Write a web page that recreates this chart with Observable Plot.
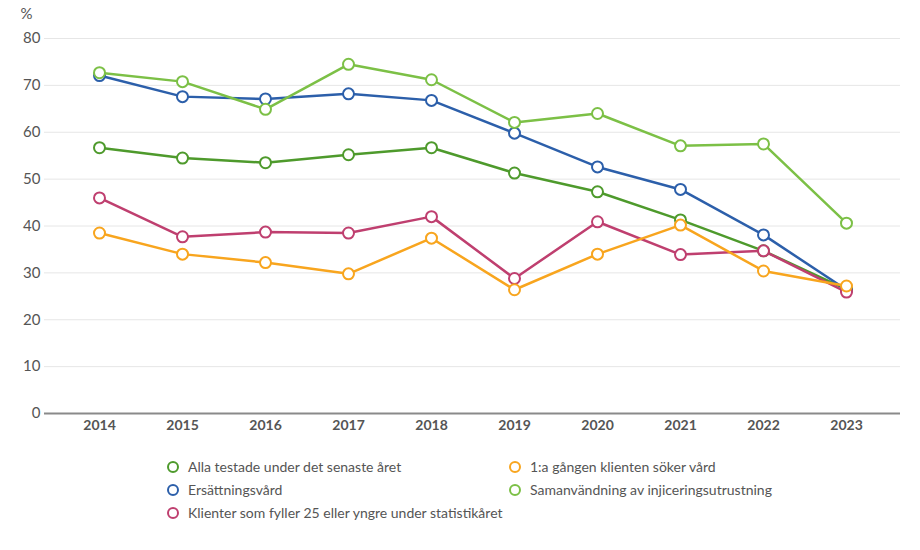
<!DOCTYPE html>
<html>
<head>
<meta charset="utf-8">
<script src="https://cdn.jsdelivr.net/npm/d3@7"></script>
<script src="https://cdn.jsdelivr.net/npm/@observablehq/plot@0.6"></script>
<style>
  body { margin: 0; background: #fff; font-family: Lato, "Noto Sans", sans-serif; }
  #chart { width: 920px; }
  .legend { display: grid; grid-template-columns: 342px 380px; margin-left: 166px; row-gap: 4px; margin-top: 12px; }
  .item { display: flex; align-items: center; font-size: 14px; color: #555; height: 19px; }
  .item svg { margin-right: 8px; }
</style>
</head>
<body>
<div id="chart"></div>
<script>
const years = ["2014","2015","2016","2017","2018","2019","2020","2021","2022","2023"];
const seriesNames = [
  "Alla testade under det senaste året",
  "1:a gången klienten söker vård",
  "Ersättningsvård",
  "Samanvändning av injiceringsutrustning",
  "Klienter som fyller 25 eller yngre under statistikåret"
];
const colors = ["#4e9a2c", "#f8a51e", "#2c5faa", "#7cc046", "#bf3f6f"];
const alla      = [56.7, 54.5, 53.5, 55.2, 56.7, 51.3, 47.3, 41.3, 34.7, 26.5];
const forsta    = [38.5, 34.0, 32.2, 29.8, 37.4, 26.4, 34.0, 40.2, 30.4, 27.2];
const ersatt    = [72.1, 67.6, 67.1, 68.2, 66.8, 59.8, 52.6, 47.8, 38.1, 26.4];
const saman     = [72.7, 70.8, 64.9, 74.5, 71.2, 62.1, 64.0, 57.1, 57.5, 40.6];
const klienter  = [46.0, 37.7, 38.7, 38.5, 42.0, 28.8, 40.9, 33.9, 34.7, 25.9];
const yTicks = [0, 10, 20, 30, 40, 50, 60, 70, 80];

const valueArrays = [alla, forsta, ersatt, saman, klienter];
const data = [];
seriesNames.forEach((s, i) => years.forEach((y, j) => data.push({series: s, year: y, value: valueArrays[i][j]})));

const drawOrder = [0, 2, 4, 3, 1];
const marks = [
  Plot.ruleY(yTicks.filter(d => d > 0), {stroke: "#e6e6e6", strokeWidth: 1}),
  Plot.ruleY([0], {stroke: "#8a8a8a", strokeWidth: 2}),
  Plot.axisY({ticks: yTicks, tickSize: 0, tickPadding: 4, fontSize: 15, color: "#555", label: null}),
  Plot.axisX({tickSize: 0, tickPadding: 7, fontSize: 14, fontWeight: "bold", color: "#555", label: null}),
  Plot.text(["%"], {frameAnchor: "top-left", dx: -24, dy: -30, fontSize: 15, fill: "#555"})
];
drawOrder.forEach(i => {
  const sub = data.filter(d => d.series === seriesNames[i]);
  marks.push(Plot.line(sub, {x: "year", y: "value", stroke: colors[i], strokeWidth: 2.5}));
  marks.push(Plot.dot(sub, {x: "year", y: "value", r: 5.5, fill: "white", stroke: colors[i], strokeWidth: 2}));
});

const chart = Plot.plot({
  width: 920,
  height: 445,
  marginLeft: 44,
  marginRight: 20,
  marginTop: 38,
  marginBottom: 32,
  style: {fontFamily: "Lato, 'Noto Sans', sans-serif", background: "white"},
  x: {type: "point", domain: years, padding: 0.62},
  y: {domain: [0, 80]},
  marks
});
document.getElementById("chart").appendChild(chart);

const legend = document.createElement("div");
legend.className = "legend";
[0, 1, 2, 3, 4].forEach(i => {
  const it = document.createElement("div");
  it.className = "item";
  it.innerHTML = `<svg width="14" height="14"><circle cx="7" cy="7" r="5" fill="white" stroke="${colors[i]}" stroke-width="2"/></svg><span>${seriesNames[i]}</span>`;
  legend.appendChild(it);
});
document.getElementById("chart").appendChild(legend);
</script>
</body>
</html>
